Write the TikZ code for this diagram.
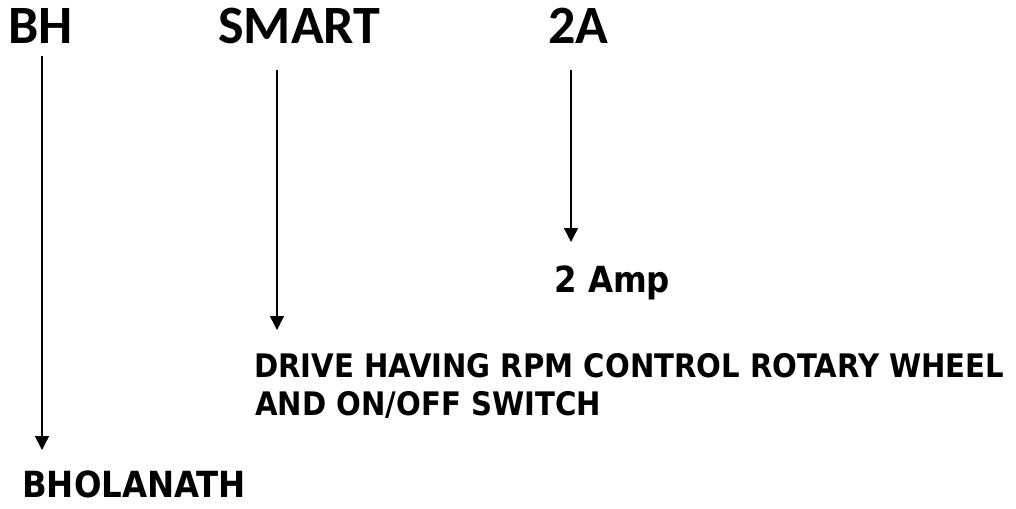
\documentclass[tikz,border=0pt]{standalone}
\usepackage{fontspec}
\setmainfont{DejaVu Sans Condensed}
\newfontfamily\topfont{Carlito}
\usetikzlibrary{arrows.meta}
\begin{document}
\begin{tikzpicture}[x=0.75pt,y=-0.75pt,
  toplbl/.style={anchor=base west,inner sep=0pt,font=\topfont\bfseries\fontsize{40.5}{44}\selectfont},
  lbl/.style={anchor=base west,inner sep=0pt,text depth=0pt,font=\bfseries\fontsize{#1}{#1}\selectfont},
  arr/.style={draw=black,line width=1.1pt,-{Triangle[width=10.5pt,length=10.5pt]}}]
\useasboundingbox (0,0) rectangle (1016,508);
\node[toplbl] (bh) at (8,43) {BH};
\node[toplbl] (smart) at (218,43) {SMART};
\node[toplbl] (twoa) at (548,43) {2A};
\node[lbl=27] (amp) at (554,292) {2 Amp};
\node[lbl=24.3] (drive) at (254,377) {DRIVE HAVING RPM CONTROL ROTARY WHEEL};
\node[lbl=24.3] (andon) at (255,415) {AND ON/OFF SWITCH};
\node[lbl=27] (bholanath) at (22,497) {BHOLANATH};
\coordinate (s1) at (42,56);
\coordinate (e1) at (42,450);
\coordinate (s2) at (277,70);
\coordinate (e2) at (277,330);
\coordinate (s3) at (571,70);
\coordinate (e3) at (571,242);
\draw[arr] (s1) -- (e1);
\draw[arr] (s2) -- (e2);
\draw[arr] (s3) -- (e3);
\end{tikzpicture}
\end{document}
